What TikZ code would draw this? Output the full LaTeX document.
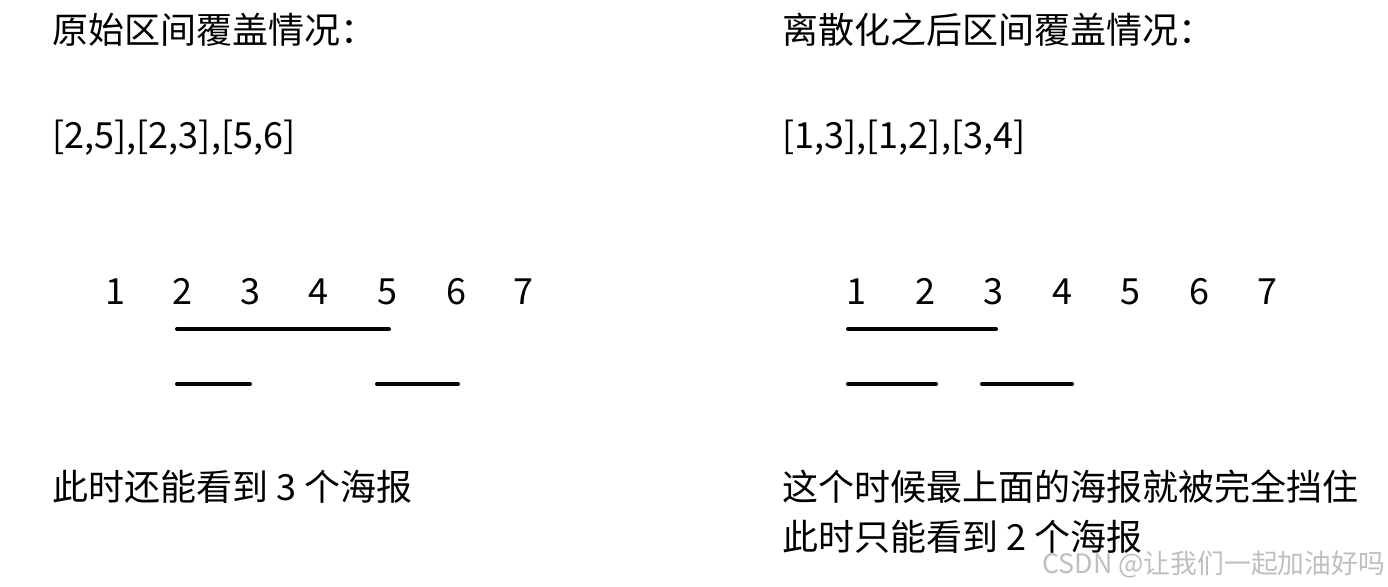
\documentclass[tikz,border=0pt]{standalone}
\usepackage{fontspec}
\setmainfont{Noto Sans CJK SC}
\usepackage{tikz}

\tikzset{
  txt/.style={anchor=base west, inner sep=0pt, font=\fontsize{18}{21}\selectfont},
  num/.style={anchor=base, inner sep=0pt, font=\fontsize{18}{21}\selectfont},
  seg/.style={line width=2pt, line cap=round},
}

\begin{document}
\begin{tikzpicture}[x=0.5pt, y=-0.5pt]
	  \useasboundingbox[fill=white] (0,0) rectangle (1388,586);
	  % left half
	  \node[txt] (lt) at (52,43) {原始区间覆盖情况：};
	  \node[txt] (lr) at (52,148) {[2,5],[2,3],[5,6]};
	  \foreach \i / \x in {1/115,2/182,3/250,4/318,5/387,6/456,7/523}
	  {
		\node[num] (l\i) at (\x,304) {\i};
	  }
	  \coordinate (la) at (177,329);
	  \coordinate (lb) at (389,329);
	  \coordinate (lc) at (177,384);
	  \coordinate (ld) at (250,384);
	  \coordinate (le) at (377,384);
	  \coordinate (lf) at (458,384);
	  \draw[seg] (la) -- (lb);
	  \draw[seg] (lc) -- (ld);
	  \draw[seg] (le) -- (lf);
	  \node[txt] (ls) at (52,500) {此时还能看到 3 个海报};
	  % right half
	  \node[txt] (rt) at (782,43) {离散化之后区间覆盖情况：};
	  \node[txt] (rr) at (782,148) {[1,3],[1,2],[3,4]};
	  \foreach \i / \x in {1/856,2/925,3/993,4/1062,5/1130,6/1199,7/1267}
	  {
		\node[num] (r\i) at (\x,304) {\i};
	  }
	  \coordinate (ra) at (848,329);
	  \coordinate (rb) at (996,329);
	  \coordinate (rc) at (848,384);
	  \coordinate (rd) at (936,384);
	  \coordinate (re) at (982,384);
	  \coordinate (rf) at (1072,384);
	  \draw[seg] (ra) -- (rb);
	  \draw[seg] (rc) -- (rd);
	  \draw[seg] (re) -- (rf);
	  \node[txt] (rs) at (782,500) {这个时候最上面的海报就被完全挡住};
	  \node[txt] (rs2) at (782,550) {此时只能看到 2 个海报};
	  % watermark
	  \node[txt, font=\fontsize{13.4}{15}\selectfont, text=black!25] (wm) at (1042,573) {CSDN @让我们一起加油好吗};
	\end{tikzpicture}
\end{document}
